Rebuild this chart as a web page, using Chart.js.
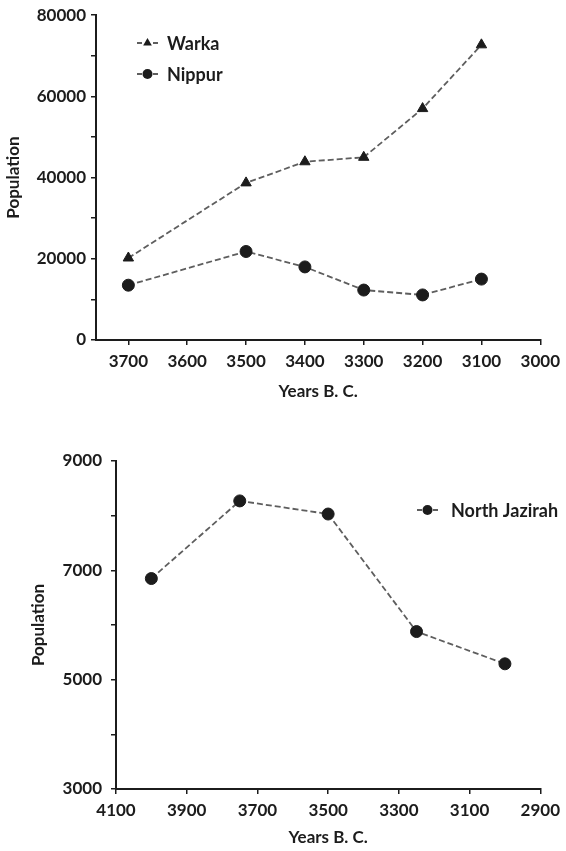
<!DOCTYPE html>
<html>
<head>
<meta charset="utf-8">
<script src="https://cdn.jsdelivr.net/npm/chart.js@4/dist/chart.umd.min.js"></script>
<style>
  html, body { margin: 0; padding: 0; background: #fff; }
  body { width: 566px; height: 851px; position: relative; overflow: hidden; }
  canvas { position: absolute; left: 0; }
  #top { top: 0; }
  #bottom { top: 440px; }
</style>
</head>
<body>
<canvas id="top" width="566" height="410"></canvas>
<canvas id="bottom" width="566" height="411"></canvas>
<script>
// ---- data ----
const topYears = [3700, 3500, 3400, 3300, 3200, 3100];
const warkaPop = [20200, 38700, 43900, 45000, 57000, 72700];
const nippurPop = [13500, 21800, 18000, 12300, 11100, 15000];
const jazirahYears = [4000, 3750, 3500, 3250, 3000];
const jazirahPop = [6850, 8270, 8030, 5880, 5290];
const seriesNames = ['Warka', 'Nippur', 'North Jazirah'];
const xTitle = 'Years B. C.';
const yTitle = 'Population';

// ---- style ----
const INK = '#1c1c1c';
const LINE = '#5e5e5e';
const FONT = 'Lato, "Open Sans", sans-serif';
Chart.defaults.font.family = FONT;
Chart.defaults.font.weight = 'bold';
Chart.defaults.font.size = 17;
Chart.defaults.color = INK;

function pts(xs, ys) { return xs.map((x, i) => ({ x: x, y: ys[i] })); }

function drawMarker(ctx, style, r, x, y) {
  ctx.save();
  ctx.fillStyle = INK; ctx.strokeStyle = INK; ctx.lineWidth = 1;
  ctx.beginPath();
  if (style === 'triangle') {
    for (let k = 0; k < 3; k++) {
      const a = k * 2 * Math.PI / 3;
      const px = x + Math.sin(a) * r, py = y - Math.cos(a) * r;
      if (k === 0) ctx.moveTo(px, py); else ctx.lineTo(px, py);
    }
    ctx.closePath();
  } else {
    ctx.arc(x, y, r, 0, Math.PI * 2);
  }
  ctx.fill();
  ctx.restore();
}

// legend drawn inside the plot, as in the reference
const insideLegend = {
  id: 'insideLegend',
  afterDraw(chart, args, opts) {
    const ctx = chart.ctx;
    chart.data.datasets.forEach((ds, i) => {
      const y = opts.y + i * opts.rowGap;
      const x = opts.x;
      ctx.save();
      ctx.strokeStyle = LINE; ctx.lineWidth = 1.8;
      ctx.beginPath();
      ctx.moveTo(x, y); ctx.lineTo(x + 5, y);
      ctx.moveTo(x + 16, y); ctx.lineTo(x + 21, y);
      ctx.stroke();
      drawMarker(ctx, ds.pointStyle, opts.markerR, x + 10.5, y);
      ctx.fillStyle = INK;
      ctx.font = 'bold ' + opts.fontSize + 'px ' + FONT;
      ctx.textBaseline = 'middle';
      ctx.textAlign = 'left';
      ctx.fillText(ds.label, opts.textX, y + 1);
      ctx.restore();
    });
  }
};

function axisCommon() {
  return {
    border: { display: true, color: INK, width: 2 },
    grid: { display: true, drawOnChartArea: false, drawTicks: true, tickLength: 5, color: INK, lineWidth: 1.5 },
  };
}

function makeChart(id, cfg) {
  return new Chart(document.getElementById(id), {
    type: 'line',
    data: { datasets: cfg.datasets },
    options: {
      responsive: false,
      animation: false,
      devicePixelRatio: 1,
      layout: { padding: cfg.padding },
      plugins: {
        legend: { display: false },
        tooltip: { enabled: false },
        insideLegend: cfg.legend,
      },
      scales: {
        x: Object.assign(axisCommon(), {
          type: 'linear',
          reverse: true,
          min: cfg.xMin, max: cfg.xMax,
          afterFit: (s) => { s.height = cfg.xHeight; },
          ticks: {
            stepSize: cfg.xStep, includeBounds: false, padding: 6, maxRotation: 0, autoSkip: false,
            callback: (v) => String(v),
          },
          title: { display: true, text: xTitle, font: { size: 17, weight: 'bold' }, padding: { top: 0, bottom: cfg.xTitlePad } },
        }),
        y: Object.assign(axisCommon(), {
          type: 'linear',
          min: cfg.yMin, max: cfg.yMax,
          afterFit: (s) => { s.width = cfg.yWidth; },
          ticks: {
            stepSize: cfg.yStep, padding: cfg.yTickPad, autoSkip: false,
            callback: (v) => ((v - cfg.yMin) % (2 * cfg.yStep) === 0 ? String(v) : ''),
          },
          title: { display: true, text: yTitle, font: { size: 17, weight: 'bold' }, padding: { top: cfg.yTitlePad, bottom: 0 } },
        }),
      },
    },
    plugins: [insideLegend],
  });
}

function lineDs(label, data, style, r) {
  return {
    label: label, data: data,
    borderColor: LINE, borderWidth: 1.8, borderDash: [6, 3],
    pointStyle: style, pointRadius: r,
    pointBackgroundColor: INK, pointBorderColor: INK, pointBorderWidth: 1,
    tension: 0, fill: false,
  };
}

makeChart('top', {
  datasets: [
    lineDs(seriesNames[0], pts(topYears, warkaPop), 'triangle', 6),
    lineDs(seriesNames[1], pts(topYears, nippurPop), 'circle', 6),
  ],
  padding: { top: 13, right: 23, bottom: 0, left: 0 },
  xMin: 3000, xMax: 3755, xStep: 100, xHeight: 70, xTitlePad: 8,
  yMin: 0, yMax: 80000, yStep: 10000, yWidth: 96, yTickPad: 5, yTitlePad: 3,
  legend: { x: 137, y: 43, rowGap: 31, textX: 167, markerR: 5, fontSize: 18 },
});

makeChart('bottom', {
  datasets: [
    lineDs(seriesNames[2], pts(jazirahYears, jazirahPop), 'circle', 6),
  ],
  padding: { top: 21, right: 20, bottom: 0, left: 0 },
  xMin: 2900, xMax: 4100, xStep: 200, xHeight: 62, xTitlePad: 3,
  yMin: 3000, yMax: 9000, yStep: 1000, yWidth: 116, yTickPad: 9, yTitlePad: 28,
  legend: { x: 417, y: 70, rowGap: 31, textX: 451, markerR: 5, fontSize: 18 },
});
</script>
</body>
</html>
